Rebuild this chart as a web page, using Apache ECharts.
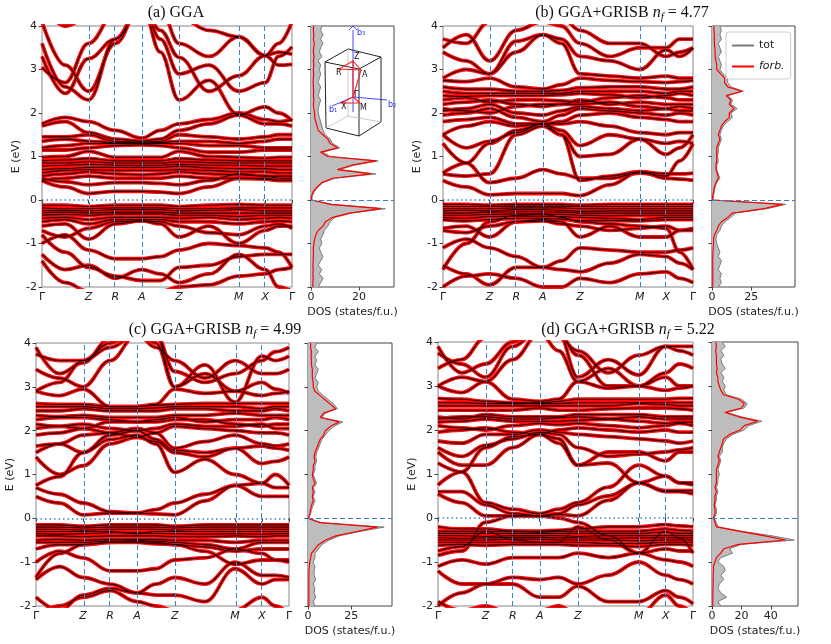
<!DOCTYPE html>
<html>
<head>
<meta charset="utf-8">
<script src="https://cdn.jsdelivr.net/npm/echarts@6/dist/echarts.min.js"></script>
<style>html,body{margin:0;padding:0;background:#fff}#c{width:831px;height:644px}</style>
</head>
<body>
<div id="c"></div>
<script>
// k-path nodes (fractional path coordinate): Γ, mid, Z, R, A, mid, Z, mid, M, X, mid, Γ
const kNodes = [0, 0.093, 0.186, 0.293, 0.399, 0.4735, 0.548, 0.6675, 0.787, 0.893, 0.9465, 1];
const kTickPos = [0, 0.186, 0.293, 0.399, 0.548, 0.787, 0.893, 1];
const kTickLab = ['Γ', 'Z', 'R', 'A', 'Z', 'M', 'X', 'Γ'];

// ---- band energies (eV) at kNodes ----
const bandsA = [
[-0.12,-0.12,-0.15,-0.12,-0.12,-0.12,-0.15,-0.12,-0.1,-0.12,-0.12,-0.12],
[-0.18,-0.2,-0.2,-0.18,-0.18,-0.18,-0.2,-0.2,-0.18,-0.18,-0.18,-0.18],
[-0.25,-0.24,-0.25,-0.22,-0.22,-0.22,-0.25,-0.24,-0.22,-0.25,-0.25,-0.25],
[-0.3,-0.28,-0.3,-0.28,-0.28,-0.28,-0.3,-0.3,-0.3,-0.3,-0.3,-0.3],
[-0.35,-0.33,-0.35,-0.32,-0.32,-0.32,-0.35,-0.35,-0.38,-0.35,-0.35,-0.35],
[-0.42,-0.4,-0.45,-0.4,-0.4,-0.4,-0.42,-0.4,-0.45,-0.42,-0.4,-0.42],
[-0.5,-0.45,-0.55,-0.45,-0.45,-0.45,-0.5,-0.5,-0.55,-0.5,-0.48,-0.5],
[-0.6,-0.55,-0.9,-0.55,-0.48,-0.55,-0.85,-0.6,-1.0,-0.7,-0.6,-0.6],
[-0.7,-0.85,-0.65,-0.5,-0.48,-0.5,-0.6,-0.75,-0.8,-0.6,-0.55,-0.65],
[-0.8,-1.2,-1.55,-1.75,-1.85,-1.85,-1.55,-1.5,-1.3,-1.25,-1.25,-1.25],
[-1.0,-0.8,-1.15,-1.35,-1.35,-1.3,-1.15,-1.0,-1.05,-1.1,-1.2,-1.55],
[-1.4,-1.9,-2.1,-2.2,-2.2,-2.1,-2.0,-1.95,-1.75,-1.7,-1.6,-1.55],
[-1.25,-1.6,-1.5,-1.8,-1.6,-1.7,-1.9,-1.7,-1.25,-1.6,-2.0,-2.1],
[0.45,0.3,0.15,0.2,0.2,0.18,0.15,0.3,0.5,0.5,0.45,0.45],
[0.5,0.42,0.35,0.4,0.4,0.38,0.35,0.45,0.6,0.55,0.5,0.5],
[0.45,0.5,0.55,0.5,0.5,0.5,0.55,0.5,0.5,0.48,0.45,0.45],
[0.55,0.6,0.65,0.6,0.58,0.6,0.65,0.6,0.58,0.55,0.55,0.55],
[0.62,0.68,0.7,0.68,0.68,0.68,0.7,0.68,0.65,0.65,0.62,0.62],
[0.7,0.72,0.75,0.75,0.75,0.75,0.78,0.74,0.72,0.72,0.7,0.7],
[0.78,0.8,0.82,0.8,0.8,0.8,0.82,0.8,0.8,0.78,0.78,0.78],
[0.85,0.85,0.88,0.85,0.85,0.85,0.88,0.86,0.85,0.85,0.85,0.85],
[0.9,0.92,0.95,0.9,0.9,0.9,0.95,0.92,0.9,0.9,0.9,0.9],
[0.98,1.0,1.12,0.98,0.98,0.98,1.12,1.0,0.98,0.96,0.98,0.98],
[1.15,1.15,1.2,1.25,1.27,1.25,1.2,1.1,1.1,1.15,1.15,1.15],
[1.2,1.25,1.3,1.3,1.3,1.3,1.3,1.25,1.25,1.2,1.2,1.2],
[1.35,1.4,1.35,1.32,1.32,1.32,1.35,1.35,1.3,1.35,1.4,1.4],
[1.45,1.45,1.5,1.35,1.33,1.35,1.5,1.45,1.4,1.45,1.5,1.5],
[1.7,1.8,1.55,1.4,1.35,1.4,1.6,1.75,1.95,1.75,1.75,1.7],
[1.75,1.9,1.8,1.6,1.42,1.6,1.75,1.85,2.0,1.85,1.8,1.85],
[3.6,2.6,2.3,3.7,4.5,3.4,2.3,2.75,1.96,2.14,2.0,1.82],
[3.3,2.45,3.25,3.7,4.5,3.9,3.28,2.5,2.86,3.32,3.1,3.12],
[3.05,2.7,3.6,4.3,4.6,4.4,3.6,3.3,3.75,3.32,3.4,3.35],
[4.1,3.1,2.5,3.6,4.5,3.7,2.9,3.1,2.5,2.7,3.3,3.52],
[4.5,4.0,4.2,4.6,4.6,4.5,4.2,3.9,3.75,3.32,3.6,4.1]
];
const bandsB = [
[-0.1,-0.1,-0.12,-0.1,-0.1,-0.1,-0.12,-0.1,-0.1,-0.1,-0.1,-0.1],
[-0.15,-0.15,-0.15,-0.14,-0.14,-0.14,-0.15,-0.15,-0.15,-0.15,-0.15,-0.15],
[-0.2,-0.2,-0.2,-0.18,-0.18,-0.18,-0.2,-0.2,-0.2,-0.2,-0.2,-0.2],
[-0.25,-0.24,-0.25,-0.22,-0.22,-0.24,-0.26,-0.25,-0.25,-0.25,-0.25,-0.25],
[-0.3,-0.3,-0.28,-0.27,-0.27,-0.28,-0.3,-0.3,-0.3,-0.3,-0.3,-0.3],
[-0.35,-0.35,-0.33,-0.32,-0.32,-0.33,-0.35,-0.36,-0.35,-0.35,-0.35,-0.35],
[-0.4,-0.42,-0.38,-0.37,-0.37,-0.38,-0.4,-0.42,-0.45,-0.4,-0.4,-0.4],
[-0.45,-0.48,-0.45,-0.42,-0.42,-0.44,-0.48,-0.47,-0.48,-0.45,-0.45,-0.45],
[-0.65,-0.6,-0.85,-0.5,-0.45,-0.5,-0.85,-0.6,-0.85,-0.85,-0.7,-0.65],
[-0.7,-0.75,-0.6,-0.5,-0.48,-0.55,-0.6,-0.7,-0.65,-0.6,-0.7,-0.7],
[-1.6,-1.0,-0.5,-0.35,-0.32,-0.4,-0.5,-0.55,-0.6,-0.65,-1.2,-1.6],
[-1.1,-0.9,-1.1,-1.3,-1.55,-1.4,-1.1,-1.15,-1.2,-1.2,-1.15,-1.1],
[-1.5,-1.7,-1.95,-1.55,-1.55,-1.6,-1.65,-1.45,-1.25,-1.3,-1.45,-1.6],
[-2.0,-1.75,-1.7,-1.8,-2.0,-2.0,-1.8,-1.9,-1.7,-1.65,-1.8,-1.9],
[0.45,0.3,0.12,0.15,0.15,0.15,0.1,0.35,0.65,0.5,0.48,0.45],
[0.6,0.55,0.6,1.5,1.7,1.5,0.45,0.55,0.65,0.6,0.6,0.62],
[1.3,0.85,0.4,0.5,0.7,0.6,0.5,0.5,0.62,0.55,0.9,1.3],
[0.62,0.85,1.3,1.6,1.75,1.6,1.25,1.5,1.4,1.3,1.35,1.3],
[1.5,1.2,1.35,1.55,1.75,1.5,1.0,1.05,1.4,1.05,1.2,1.5],
[1.5,1.7,1.8,1.7,1.75,1.75,1.8,1.7,1.55,1.5,1.55,1.55],
[1.8,1.85,1.9,1.75,1.75,1.8,1.95,2.0,1.9,1.85,1.8,1.8],
[1.95,2.0,2.1,1.9,1.8,1.95,2.1,2.05,2.0,1.95,2.0,1.95],
[2.05,2.1,2.2,2.0,1.95,2.05,2.15,2.1,2.05,2.1,2.05,2.05],
[2.1,2.05,2.0,2.15,2.2,2.2,2.2,2.25,2.15,2.1,2.15,2.1],
[2.2,2.25,2.3,2.2,2.15,2.2,2.3,2.2,2.25,2.2,2.2,2.2],
[2.3,2.35,2.25,2.3,2.3,2.28,2.25,2.35,2.4,2.35,2.3,2.3],
[2.4,2.38,2.4,2.4,2.4,2.42,2.45,2.42,2.35,2.4,2.45,2.4],
[2.5,2.45,2.45,2.45,2.45,2.45,2.5,2.5,2.5,2.45,2.5,2.5],
[2.6,2.55,2.55,2.5,2.5,2.52,2.58,2.6,2.6,2.55,2.55,2.6],
[2.75,2.72,2.8,2.6,2.55,2.65,2.8,2.75,2.72,2.7,2.72,2.75],
[2.8,3.0,2.9,3.4,3.8,3.6,2.9,2.85,2.8,2.85,2.8,2.8],
[3.4,3.2,2.9,3.65,3.8,3.7,3.3,3.2,3.0,3.45,3.3,3.5],
[3.5,3.8,3.2,3.9,4.1,4.0,3.6,3.3,3.5,3.5,3.7,3.7],
[3.7,3.6,4.1,4.3,4.3,4.2,3.9,3.6,3.6,3.3,3.4,3.5]
];
const bandsC = [
[-0.15,-0.15,-0.18,-0.15,-0.15,-0.15,-0.18,-0.15,-0.15,-0.15,-0.15,-0.15],
[-0.2,-0.2,-0.22,-0.2,-0.2,-0.2,-0.22,-0.2,-0.2,-0.2,-0.2,-0.2],
[-0.25,-0.25,-0.27,-0.25,-0.25,-0.25,-0.27,-0.25,-0.25,-0.25,-0.25,-0.25],
[-0.3,-0.3,-0.3,-0.3,-0.35,-0.3,-0.3,-0.3,-0.3,-0.3,-0.3,-0.3],
[-0.35,-0.36,-0.35,-0.33,-0.33,-0.34,-0.35,-0.36,-0.35,-0.36,-0.35,-0.35],
[-0.4,-0.4,-0.42,-0.4,-0.4,-0.4,-0.42,-0.42,-0.4,-0.42,-0.4,-0.4],
[-0.5,-0.48,-0.5,-0.48,-0.48,-0.48,-0.5,-0.5,-0.55,-0.5,-0.5,-0.5],
[-0.55,-0.55,-0.55,-0.52,-0.52,-0.52,-0.55,-0.6,-0.7,-0.55,-0.55,-0.55],
[-0.7,-0.6,-0.6,-0.55,-0.55,-0.58,-0.6,-0.65,-0.75,-0.7,-0.7,-0.7],
[-1.0,-0.75,-0.9,-1.2,-1.2,-1.15,-0.95,-0.9,-0.7,-0.8,-0.95,-0.95],
[-1.35,-0.8,-0.6,-0.55,-0.5,-0.55,-0.6,-0.75,-1.05,-0.95,-0.95,-1.0],
[-1.4,-1.1,-1.35,-1.5,-1.7,-1.5,-1.35,-1.5,-1.0,-1.3,-1.3,-1.35],
[-1.8,-2.1,-1.75,-1.6,-1.7,-1.75,-1.75,-1.9,-1.15,-1.5,-1.4,-1.4],
[-2.2,-2.0,-1.8,-1.65,-1.9,-2.0,-2.1,-2.2,-2.1,-1.8,-2.0,-2.2],
[0.5,0.35,0.08,0.12,0.12,0.1,0.08,0.4,0.75,0.5,0.5,0.5],
[0.7,0.55,0.35,0.15,0.12,0.2,0.35,0.55,0.75,0.8,0.7,0.7],
[0.75,0.95,1.5,1.8,1.9,1.7,1.05,1.35,1.0,0.8,1.0,0.75],
[1.4,1.0,1.2,1.7,1.85,1.75,1.5,1.4,1.6,1.25,1.3,1.4],
[1.5,1.7,1.5,1.9,2.0,1.8,1.55,1.5,1.6,1.65,1.6,1.55],
[1.65,1.7,1.9,1.95,2.05,1.95,1.6,1.75,1.9,1.7,1.65,1.7],
[1.9,1.95,2.05,1.95,1.85,1.95,2.1,2.05,2.0,1.95,1.95,1.9],
[2.05,2.1,2.15,2.05,2.0,2.05,2.15,2.1,2.1,2.15,2.05,2.05],
[2.15,2.1,2.05,2.2,2.2,2.2,2.25,2.25,2.15,2.1,2.15,2.15],
[2.25,2.3,2.3,2.25,2.2,2.25,2.3,2.2,2.25,2.25,2.3,2.25],
[2.35,2.32,2.35,2.3,2.3,2.3,2.35,2.35,2.4,2.35,2.35,2.35],
[2.45,2.45,2.5,2.45,2.45,2.45,2.5,2.5,2.45,2.45,2.5,2.45],
[2.55,2.55,2.55,2.5,2.5,2.52,2.55,2.55,2.55,2.5,2.55,2.55],
[2.62,2.6,2.6,2.55,2.55,2.58,2.6,2.62,2.62,2.62,2.62,2.62],
[2.9,2.8,2.95,2.55,2.55,2.6,2.95,2.85,2.9,2.8,2.85,2.9],
[2.9,3.1,3.6,3.9,4.2,4.0,3.0,3.3,2.9,3.1,2.95,2.85],
[3.4,3.2,3.0,3.6,4.2,3.9,3.6,3.2,3.6,3.3,3.3,3.4],
[3.75,3.6,3.6,4.0,4.3,4.2,3.0,3.5,2.65,3.7,3.6,3.7],
[3.9,3.3,3.55,4.1,4.3,4.2,3.35,3.1,3.3,3.6,3.8,3.9]
];
const bandsD = [
[-0.2,-0.25,-0.25,-0.3,-0.3,-0.28,-0.25,-0.2,-0.2,-0.15,-0.18,-0.2],
[-0.3,-0.3,-0.3,-0.3,-0.32,-0.3,-0.3,-0.3,-0.3,-0.25,-0.28,-0.3],
[-0.35,-0.35,-0.35,-0.35,-0.35,-0.35,-0.35,-0.35,-0.35,-0.32,-0.35,-0.35],
[-0.4,-0.4,-0.42,-0.4,-0.4,-0.4,-0.42,-0.4,-0.4,-0.4,-0.4,-0.4],
[-0.45,-0.46,-0.45,-0.44,-0.44,-0.45,-0.45,-0.46,-0.45,-0.45,-0.45,-0.45],
[-0.5,-0.5,-0.5,-0.48,-0.48,-0.5,-0.5,-0.5,-0.52,-0.5,-0.5,-0.5],
[-0.55,-0.55,-0.55,-0.55,-0.55,-0.55,-0.55,-0.58,-0.58,-0.55,-0.55,-0.55],
[-0.62,-0.6,-0.62,-0.6,-0.6,-0.6,-0.62,-0.62,-0.65,-0.6,-0.6,-0.62],
[-0.75,-0.65,-0.3,-0.5,-0.55,-0.55,-0.2,-0.5,-0.8,-0.7,-0.75,-0.75],
[-0.85,-0.75,-0.1,0.05,0.05,0.0,-0.1,-0.4,-0.8,-0.3,-0.45,-0.8],
[-1.1,-0.95,-1.05,-0.9,-0.9,-0.9,-0.8,-0.9,-0.8,-0.95,-1.0,-1.1],
[-1.2,-1.5,-1.5,-1.35,-1.4,-1.35,-1.5,-1.3,-1.0,-1.3,-1.4,-1.5],
[-2.0,-1.7,-1.5,-1.5,-1.8,-1.8,-1.55,-1.9,-1.9,-1.65,-1.8,-1.95],
[-1.9,-2.1,-2.0,-2.2,-2.1,-2.0,-2.2,-2.2,-2.2,-1.75,-2.0,-2.2],
[0.55,0.35,0.05,0.05,0.05,0.08,0.05,0.4,0.8,0.6,0.6,0.55],
[0.6,0.6,0.3,0.1,0.05,0.1,0.3,0.5,0.8,0.62,0.62,0.62],
[0.75,1.05,1.6,1.85,1.9,1.7,1.2,1.25,0.8,0.95,0.8,0.75],
[1.25,1.05,0.35,0.2,0.1,0.2,0.35,0.7,1.2,0.95,0.8,0.8],
[1.5,1.2,1.2,1.6,1.9,1.8,1.2,1.5,1.5,1.3,1.5,1.5],
[1.6,1.4,1.65,1.8,1.95,1.9,1.6,1.4,1.45,1.5,1.55,1.6],
[1.75,1.7,1.9,1.9,2.0,1.95,1.9,1.85,1.8,1.75,1.7,1.75],
[1.95,2.0,2.05,1.95,1.9,2.0,2.05,2.0,1.95,2.0,1.95,1.95],
[2.1,2.05,2.0,2.1,2.15,2.12,2.15,2.1,2.05,2.1,2.15,2.1],
[2.18,2.2,2.25,2.2,2.2,2.2,2.22,2.25,2.2,2.15,2.18,2.18],
[2.25,2.3,2.3,2.25,2.25,2.28,2.3,2.25,2.3,2.25,2.25,2.25],
[2.3,2.25,2.35,2.3,2.3,2.3,2.35,2.35,2.35,2.3,2.3,2.3],
[2.45,2.45,2.45,2.45,2.5,2.45,2.45,2.48,2.5,2.5,2.48,2.45],
[2.55,2.55,2.55,2.55,2.55,2.55,2.55,2.55,2.6,2.58,2.55,2.55],
[2.62,2.62,2.6,2.6,2.6,2.6,2.62,2.62,2.62,2.62,2.62,2.62],
[2.72,2.7,2.65,2.62,2.62,2.65,2.7,2.7,2.7,2.7,2.72,2.72],
[3.0,2.85,3.1,2.7,2.65,2.7,3.1,2.95,3.0,2.9,2.95,3.0],
[3.0,3.2,3.1,3.6,4.2,3.8,3.1,3.4,3.0,3.2,3.0,3.0],
[3.75,3.5,3.2,3.9,4.3,4.1,3.8,3.3,3.7,3.9,3.8,3.7],
[3.9,3.3,3.5,4.0,4.3,4.2,3.2,3.6,3.25,3.9,3.9,3.9],
[3.4,3.6,4.1,4.3,4.3,4.2,3.7,3.0,3.0,3.3,3.5,3.4]
];

// ---- DOS (states/f.u.), energies -2.0 .. 4.0 eV, step 0.1 ----
const dosE = Array.from({length: 61}, (_, i) => ((i - 20) / 10).toFixed(1));
const dosTotA = [3,4,5,3.5,4.5,3,4,5,4,3.5,4.5, 4,5,5.5,7,8,10,17,31,9, 0.3,0.5,1.5,3,5,10,27,12,18,28, 8,5,12,9,8,6,5,4.5,4,3.5, 3,3,3.5,4,3,3.5,4,3,3.5,4,3.5,4,3,4.5,3.5,4,5,4,5,4,4.5];
const dosForbA = [0.8,0.8,0.9,0.8,0.9,0.8,0.9,1,1,1,1.2, 1.5,2,3,5,6,9,16,29,8, 0.2,0.3,1,2.5,4.5,9,25,11,17,27, 7,4,11,8,7,5,3,2.5,2,1.5, 1.5,1.2,1,1.2,1,1.1,1,0.9,1,1.1,1,1.2,1,1.3,1,1.1,1.4,1,1.2,1,1.1];
const dosTotB = [4,6,5,6,4,5,6,4,5,4, 3,2.5,3,5,6,8,12,15,35,47, 0.5,1,1.5,2,3,5,4,3,3,4, 3.5,4,4,5,6,5,6,7,10,13, 12,16,12,13,10,20,12,10,10,7, 5,6,5,4,6,5,4,6,5,6,5];
const dosForbB = [0.5,0.5,0.5,0.5,0.5,0.5,0.5,0.5,0.6,0.8, 1,1,1.5,3,4,6,10,13,33,45, 0.3,0.5,1,1.5,2.5,4,3.5,2.5,2.5,3, 3,3,3,4,5,4,5,6,8,11, 11,14,11,12,9,19,10,8,8,5.5, 3,3,2.5,2,2,1.8,1.5,1.5,1.5,1.2,1.2];
const dosTotC = [4,3,4.5,3.5,4,3,4.5,3.5,3.5,4, 3,4,4,6,8,12,18,30,44,8, 0.3,1.5,2,3,4,3,4,3,5,4, 3,4,4,5,4.5,5,6,7,8,10, 12,15,20,8,10,17,15,12,9,6, 5,6,4,5,6,4,5,4,6,4,5];
const dosForbC = [0.5,0.5,0.5,0.5,0.5,0.5,0.5,0.5,0.5,0.8, 1,1.5,2,4,6,10,16,28,40,7, 0.2,1,1.5,2,3,2.5,3,2.5,4,3, 2.5,3,3,4,3.5,4,5,6,7,9, 10,13,18,7,9,16,13,10,7,4, 3,3,2.5,2.5,2.5,2,2,1.8,2,1.5,1.5];
const dosTotD = [6,4,10,6,4,5,8,6,9,8, 4,6,14,12,20,56,40,20,4,3, 1.5,3,3,2,3,3,4,3,4,4, 5,4,5,6,5,7,7,8,10,14, 22,25,34,20,10,22,24,20,10,8, 9,7,8,6,9,7,6,8,6,9,7];
const dosForbD = [0.5,0.5,0.6,0.6,0.7,0.8,0.8,0.8,1,1, 2,3,6,8,18,50,35,18,3,2, 1,2,2,1.5,2,2,3,2,3,3, 3,3,4,5,4,5,6,7,8,12, 19,22,31,18,9,20,22,18,8,6, 5,4,4,3,3.5,3,3,3,2.5,3,2.5];

const titles = [
  {text: '(a) GGA', x: 176, y: 13},
  {text: '(b) GGA+GRISB {i|n}{s|f} = 4.77', x: 622, y: 13},
  {text: '(c) GGA+GRISB {i|n}{s|f} = 4.99', x: 215, y: 330},
  {text: '(d) GGA+GRISB {i|n}{s|f} = 5.22', x: 628, y: 330}
];

// ---- layout ----
const bandGrids = [
  {left: 42, top: 26, width: 250, height: 261},
  {left: 443, top: 26, width: 250, height: 261},
  {left: 36, top: 343, width: 253, height: 263},
  {left: 438, top: 342, width: 255, height: 264}
];
const dosGrids = [
  {left: 311, top: 26, width: 83, height: 261},
  {left: 712, top: 26, width: 83, height: 261},
  {left: 308, top: 343, width: 84, height: 263},
  {left: 712, top: 342, width: 86, height: 264}
];
const dosMax = [34.6, 52.8, 48.5, 58.5];
const dosTicks = [[0, 20], [0, 25], [0, 25], [0, 20, 40]];
const nameGaps = [17, 17, 18, 15];

const allBands = [bandsA, bandsB, bandsC, bandsD];
const allTot = [dosTotA, dosTotB, dosTotC, dosTotD];
const allForb = [dosForbA, dosForbB, dosForbC, dosForbD];

const FONT = 'DejaVu Sans';
const blue = '#3a82c4';
const grid = [], xAxis = [], yAxis = [], series = [];

for (let p = 0; p < 4; p++) {
  const gb = 2 * p, gd = 2 * p + 1;
  grid.push(Object.assign({show: true, borderColor: '#888', borderWidth: 1, backgroundColor: 'transparent'}, bandGrids[p]));
  grid.push(Object.assign({show: true, borderColor: '#444', borderWidth: 1, backgroundColor: 'transparent'}, dosGrids[p]));

  xAxis.push({
    type: 'value', gridIndex: gb, min: 0, max: 1,
    axisLine: {show: false}, splitLine: {show: false},
    axisTick: {show: true, customValues: kTickPos, length: 3.5, lineStyle: {color: '#444'}},
    axisLabel: {
      customValues: kTickPos, fontFamily: FONT, fontSize: 11, color: '#222', margin: 5,
      formatter: v => { const i = kTickPos.findIndex(k => Math.abs(k - v) < 1e-6); const t = kTickLab[i]; return t === 'Γ' ? t : '{it|' + t + '}'; },
      rich: {it: {fontStyle: 'italic', fontFamily: FONT, fontSize: 11, color: '#222'}}
    }
  });
  yAxis.push({
    type: 'value', gridIndex: gb, min: -2, max: 4, interval: 1,
    name: 'E (eV)', nameLocation: 'middle', nameGap: nameGaps[p], nameRotate: 90,
    nameTextStyle: {fontFamily: FONT, fontSize: 11, color: '#222'},
    axisLine: {show: false}, splitLine: {show: false},
    axisTick: {show: true, length: 3.5, lineStyle: {color: '#444'}},
    axisLabel: {fontFamily: FONT, fontSize: 11, color: '#222', margin: 5}
  });
  xAxis.push({
    type: 'value', gridIndex: gd, min: 0, max: dosMax[p],
    name: 'DOS (states/f.u.)', nameLocation: 'middle', nameGap: 20,
    nameTextStyle: {fontFamily: FONT, fontSize: 11, color: '#222'},
    axisLine: {show: false}, splitLine: {show: false},
    axisTick: {show: true, customValues: dosTicks[p], length: 3.5, lineStyle: {color: '#444'}},
    axisLabel: {customValues: dosTicks[p], fontFamily: FONT, fontSize: 11, color: '#222', margin: 5}
  });
  yAxis.push({
    type: 'category', gridIndex: gd, data: dosE, boundaryGap: false,
    axisLine: {show: false}, splitLine: {show: false},
    axisTick: {show: true, interval: 9, length: 3.5, lineStyle: {color: '#444'}},
    axisLabel: {show: false}
  });

  allBands[p].forEach((b, j) => {
    const data = b.map((e, i) => [kNodes[i], e]);
    const common = {type: 'line', xAxisIndex: gb, yAxisIndex: gb, data, smooth: 0.4, smoothMonotone: 'x',
      symbol: 'none', silent: true, animation: false, clip: true};
    const red = Object.assign({}, common, {lineStyle: {color: '#ff0a0a', width: 3.8}, z: 2});
    if (j === 0) {
      red.markLine = {
        silent: true, symbol: ['none', 'none'], label: {show: false}, animation: false,
        lineStyle: {color: blue, type: [5, 3], width: 1},
        data: kTickPos.slice(1, -1).map(v => ({xAxis: v})).concat([{yAxis: 0, lineStyle: {type: [1.5, 3], width: 1.6, color: blue}}])
      };
    }
    series.push(red);
    series.push(Object.assign({}, common, {lineStyle: {color: '#2a0000', width: 1.15}, z: 3}));
  });

  series.push({
    name: 'tot', type: 'line', xAxisIndex: gd, yAxisIndex: gd, data: allTot[p], symbol: 'none',
    lineStyle: {color: '#7a7a7a', width: 1}, areaStyle: {color: '#bdbdbd', opacity: 1},
    itemStyle: {color: '#7a7a7a'}, z: 2, silent: true, animation: false
  });
  series.push({
    name: 'forb.', type: 'line', xAxisIndex: gd, yAxisIndex: gd, data: allForb[p], symbol: 'none',
    lineStyle: {color: '#ff0000', width: 1.2}, itemStyle: {color: '#ff0000'}, z: 3, silent: true, animation: false,
    markLine: {silent: true, symbol: ['none', 'none'], label: {show: false}, animation: false,
      lineStyle: {color: blue, type: [5, 3], width: 1.2}, data: [{yAxis: '0.0'}]}
  });
}

// ---- titles & Brillouin-zone inset (decorative) ----
const graphic = titles.map(t => ({
  type: 'text', x: t.x, y: t.y, silent: true,
  style: {
    text: t.text, fontFamily: 'Liberation Serif', fontSize: 16, fill: '#111',
    align: 'center', verticalAlign: 'middle', textAlign: 'center', textVerticalAlign: 'middle',
    rich: {
      i: {fontFamily: 'Liberation Serif', fontStyle: 'italic', fontSize: 16, fill: '#111'},
      s: {fontFamily: 'Liberation Serif', fontStyle: 'italic', fontSize: 11, fill: '#111', padding: [8, 0, 0, 0]}
    }
  }
}));
const bz = {
  TFL: [325, 62], TBL: [348, 49], TBR: [381, 57], TFR: [359, 69],
  BFL: [326, 128], BFR: [359, 136], BBR: [381, 122], BBL: [348, 116],
  G: [353, 97], Z: [353, 61], R: [339, 69], A: [361, 70], X: [341, 103], M: [360, 103]
};
const seg = (a, b, color, w) => ({type: 'polyline', silent: true, z: 100,
  shape: {points: [bz[a], bz[b]]}, style: {stroke: color, lineWidth: w || 1, fill: null}});
const inset = [
  seg('TFL','TBL','#222'), seg('TBL','TBR','#222'), seg('TBR','TFR','#222'), seg('TFR','TFL','#222'),
  seg('TFL','BFL','#222'), seg('TFR','BFR','#222'), seg('TBR','BBR','#222'),
  seg('BFL','BFR','#222'), seg('BFR','BBR','#222'),
  seg('TBL','BBL','#bbb', 0.8), seg('BBL','BFL','#bbb', 0.8), seg('BBL','BBR','#bbb', 0.8),
  {type: 'polyline', silent: true, z: 100, shape: {points: [[353, 112], [353, 30]]}, style: {stroke: '#3333ff', lineWidth: 0.9}},
  {type: 'polyline', silent: true, z: 100, shape: {points: [[349, 30], [353, 26], [357, 30]]}, style: {stroke: '#3333ff', lineWidth: 0.9, fill: null}},
  {type: 'polyline', silent: true, z: 100, shape: {points: [[353, 97], [387, 100]]}, style: {stroke: '#3333ff', lineWidth: 0.9}},
  {type: 'polyline', silent: true, z: 100, shape: {points: [[353, 97], [332, 106]]}, style: {stroke: '#3333ff', lineWidth: 0.9}},
  {type: 'polyline', silent: true, z: 101, shape: {points: [bz.G, bz.Z, bz.R, bz.A, bz.Z]}, style: {stroke: '#ff2020', lineWidth: 1.1, fill: null}},
  {type: 'polyline', silent: true, z: 101, shape: {points: [bz.G, bz.X, bz.M, bz.G, bz.A]}, style: {stroke: '#ff2020', lineWidth: 1.1, fill: null}}
];
const insetText = [
  ['b₃', 357, 33, '#3333ff'], ['b₂', 388, 105, '#3333ff'], ['b₁', 329, 110, '#3333ff'],
  ['Z', 354, 57, '#111'], ['R', 336, 73, '#111'], ['A', 362, 75, '#111'],
  ['Γ', 354, 95, '#111'], ['X', 341, 107, '#111'], ['M', 360, 108, '#111']
].map(([t, x, y, c]) => ({type: 'text', x, y, z: 102, silent: true,
  style: {text: t, fontFamily: FONT, fontSize: 8, fill: c, align: 'left', verticalAlign: 'middle', textVerticalAlign: 'middle'}}));

const chart = echarts.init(document.getElementById('c'), null, {renderer: 'canvas'});
chart.setOption({
  animation: false,
  backgroundColor: '#fff',
  grid, xAxis, yAxis, series,
  legend: {
    data: [{name: 'tot', icon: 'rect'}, {name: 'forb.', icon: 'rect'}],
    left: 726, top: 32, orient: 'vertical', selectedMode: false,
    itemWidth: 22, itemHeight: 2, itemGap: 10, padding: [8, 6, 7, 6],
    borderColor: '#cccccc', borderWidth: 1, borderRadius: 3, backgroundColor: '#fff',
    textStyle: {fontFamily: FONT, fontSize: 11, color: '#222', rich: {it: {fontStyle: 'italic', fontFamily: FONT, fontSize: 11, color: '#222'}}},
    formatter: n => n === 'forb.' ? '{it|forb.}' : n
  },
  graphic: graphic.concat(inset, insetText)
});
</script>
</body>
</html>
